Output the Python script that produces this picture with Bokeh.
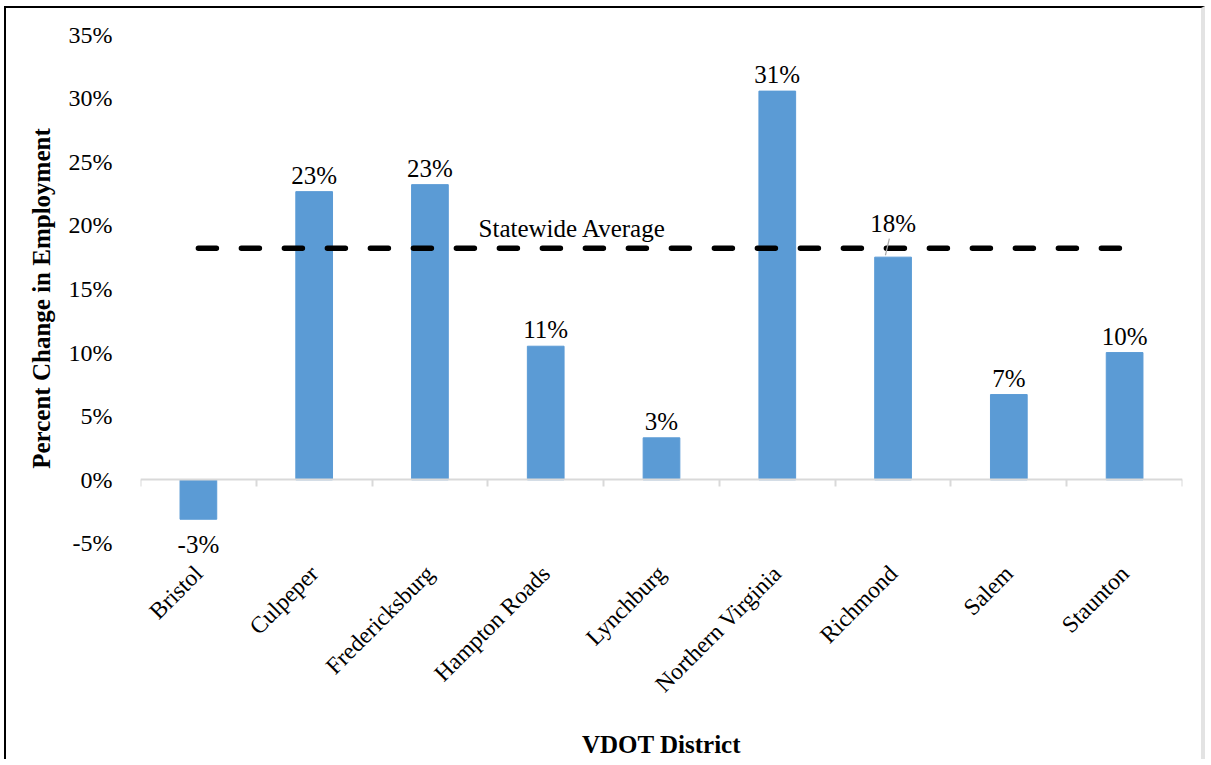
import numpy as np
from bokeh.plotting import figure
from bokeh.models import (ColumnDataSource, LabelSet, Label, LinearAxis, FixedTicker,
                          Range1d, CustomJSTickFormatter)
from bokeh.embed import file_html
from bokeh.resources import INLINE

# ---- data ----
districts = ["Bristol", "Culpeper", "Fredericksburg", "Hampton Roads", "Lynchburg",
             "Northern Virginia", "Richmond", "Salem", "Staunton"]
pct_change = [-3.1, 22.65, 23.2, 10.5, 3.3, 30.55, 17.5, 6.7, 10.0]
statewide_avg = 18.2
y_ticks = [-5, 0, 5, 10, 15, 20, 25, 30, 35]
avg_label = "Statewide Average"
x_title = "VDOT District"
y_title = "Percent Change in Employment"

FONT = "Liberation Serif"
BAR = "#5B9BD5"
AXIS_GRAY = "#D9D9D9"

n = len(districts)
xc = np.arange(n) + 0.5
labels = [f"{int(np.floor(v + 0.5)):d}%" for v in pct_change]
label_lift = {"Richmond": 25}
offsets = [label_lift.get(d, 8 if v >= 0 else -34) for d, v in zip(districts, pct_change)]
src = ColumnDataSource(dict(x=xc, top=pct_change, lab=labels, off=offsets, name=districts))

p = figure(width=1201, height=753, output_backend="svg", toolbar_location=None,
           x_range=Range1d(0, n), y_range=Range1d(-6.5, y_ticks[-1]),
           min_border_left=134, min_border_right=25, min_border_top=26, min_border_bottom=196,
           styles={"margin-left": "4px", "margin-top": "6px",
                   "border-left": "2px solid #000", "border-top": "2px solid #000",
                   "border-right": "4px solid #E3E3E3"})
p.outline_line_color = None
p.xgrid.visible = False
p.ygrid.visible = False
p.background_fill_color = "white"
p.border_fill_color = "white"

# y axis
p.yaxis.ticker = FixedTicker(ticks=y_ticks)
p.yaxis.formatter = CustomJSTickFormatter(code="return tick.toFixed(0) + '%';")
p.yaxis.axis_line_color = None
p.yaxis.major_tick_line_color = None
p.yaxis.minor_tick_line_color = None
p.yaxis.major_label_text_font = FONT
p.yaxis.major_label_text_font_size = "24px"
p.yaxis.major_label_text_color = "#000000"
p.yaxis.major_label_standoff = 22
p.yaxis.axis_label = y_title
p.yaxis.axis_label_text_font = FONT
p.yaxis.axis_label_text_font_style = "bold"
p.yaxis.axis_label_text_font_size = "25px"
p.yaxis.axis_label_text_color = "#000000"
p.yaxis.axis_label_standoff = 11

# x axis (labels only, at bottom of frame)
p.xaxis.ticker = FixedTicker(ticks=list(xc))
p.xaxis.major_label_overrides = {float(x): d for x, d in zip(xc, districts)}
p.xaxis.major_label_orientation = np.pi / 4
p.xaxis.axis_line_color = None
p.xaxis.major_tick_line_color = None
p.xaxis.minor_tick_line_color = None
p.xaxis.major_label_text_font = FONT
p.xaxis.major_label_text_font_size = "23.5px"
p.xaxis.major_label_text_color = "#000000"
p.xaxis.major_label_standoff = 1
p.xaxis.axis_label = x_title
p.xaxis.axis_label_text_font = FONT
p.xaxis.axis_label_text_font_style = "bold"
p.xaxis.axis_label_text_font_size = "25px"
p.xaxis.axis_label_text_color = "#000000"
p.xaxis.axis_label_standoff = 22

# zero line axis with boundary ticks
zero_axis = LinearAxis(fixed_location=0, ticker=FixedTicker(ticks=list(range(n + 1))),
                       axis_line_color=AXIS_GRAY, axis_line_width=2,
                       major_tick_line_color=AXIS_GRAY, major_tick_line_width=2,
                       major_tick_out=7, major_tick_in=0, minor_tick_line_color=None,
                       major_label_text_font_size="0px", major_label_text_color=None)
p.add_layout(zero_axis, "below")

# bars
p.vbar(x="x", top="top", bottom=0, width=0.317, source=src,
       fill_color=BAR, line_color=BAR, line_width=1)

# statewide average line
p.line(x=[xc[0], xc[-1]], y=[statewide_avg, statewide_avg], line_color="black",
       line_width=5.5, line_dash="18 25", line_cap="round")
p.add_layout(Label(x=3.73, y=statewide_avg, y_offset=20, text=avg_label,
                   text_font=FONT, text_font_size="25px", text_align="center",
                   text_baseline="alphabetic", text_color="#000000"))

# leader line for Richmond label
ri = districts.index("Richmond")
p.segment(x0=[xc[ri] - 0.066], y0=[pct_change[ri] + 0.15], x1=[xc[ri] - 0.032],
          y1=[pct_change[ri] + 1.45], line_color="#A6A6A6", line_width=1.2)

# data labels
p.add_layout(LabelSet(x="x", y="top", text="lab", y_offset="off", source=src,
                      text_font=FONT, text_font_size="25px", text_align="center",
                      text_baseline="alphabetic", text_color="#000000"))

open("out.html", "w").write(file_html(p, INLINE))
